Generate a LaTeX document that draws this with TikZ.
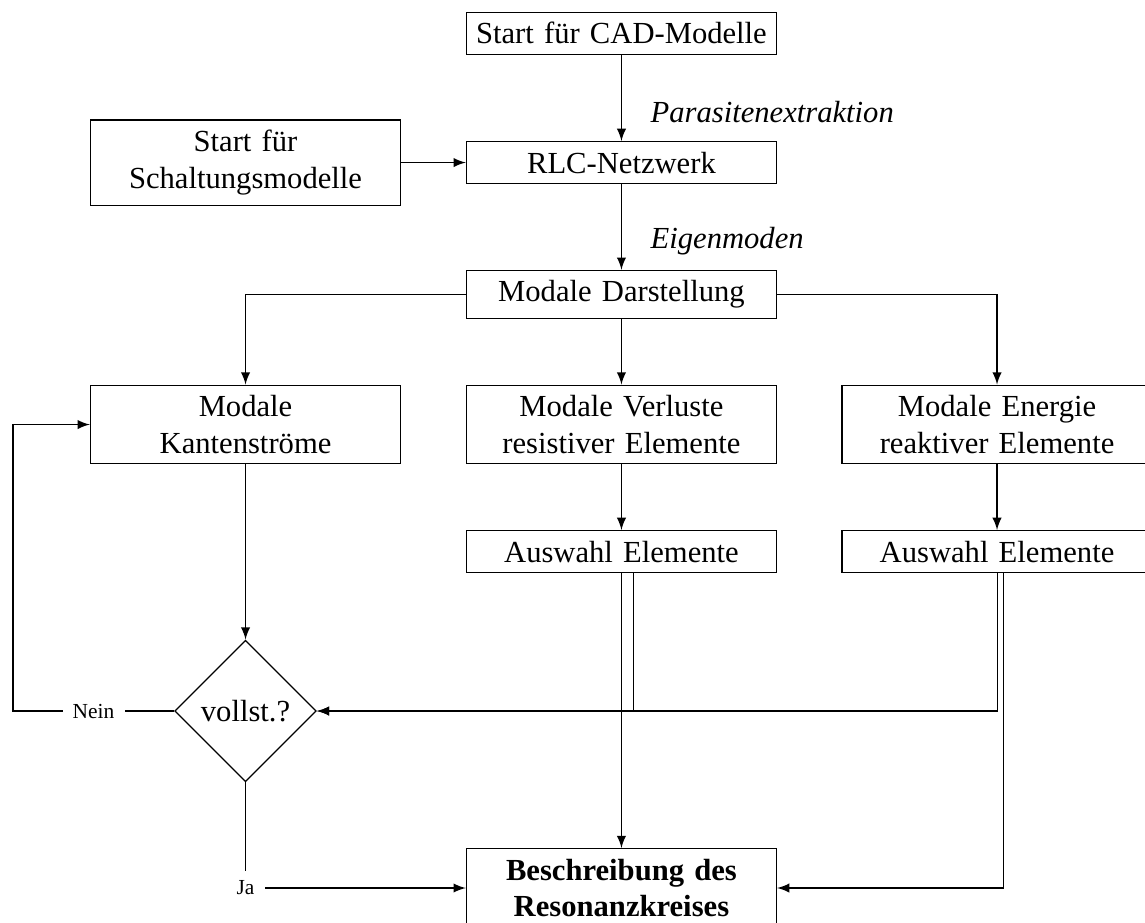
\documentclass[tikz,border=0pt]{standalone}
\usepackage{fontspec}
\setmainfont{Liberation Serif}
\usepackage{tikz}
\usetikzlibrary{shapes,arrows.meta,backgrounds}
\usetikzlibrary{positioning, shapes.geometric}
\tikzset{
  boxA/.style={ draw, inner xsep=2pt, text width=3.42cm, align=center }
}
\tikzset{
  decA/.style={ draw, diamond, aspect=1, inner sep=2.5pt }
}
\tikzset{
  lblA/.style={ fill=white, font=\scriptsize }
}
\tikzset{
  lblE/.style={ right, xshift=6pt, yshift=-4.5pt, font=\itshape }
}

\begin{document}
\begin{tikzpicture}[y=1cm, x=1cm, >=latex]
      \useasboundingbox (0,0) rectangle (13.146,-10.586);

      \node[boxA] (cad) at (7.135, -0.382) {Start für CAD-Modelle};
      \node[boxA] (rlc) at (7.135, -1.866) {RLC-Netzwerk};
      \node[boxA] (schalt) at (2.819, -1.866) {Start für\\Schaltungsmodelle};
      \node[boxA] (darst) at (7.135, -3.381) {Modale Darstellung};

      \node[boxA] (kant) at (2.819, -4.874) {Modale\\Kantenströme};
      \node[boxA] (verl) at (7.135, -4.874) {Modale Verluste\\resistiver Elemente};
      \node[boxA] (energ) at (11.447, -4.874) {Modale Energie\\reaktiver Elemente};

      \node[boxA] (auswV) at (7.135, -6.332) {Auswahl Elemente};
      \node[boxA] (auswE) at (11.447, -6.332) {Auswahl Elemente};

      \node[decA] (vollst) at (2.819, -8.163) {vollst.?};
      \node[boxA, font=\bfseries] (besch) at (7.135, -10.195) {Beschreibung des\\Resonanzkreises};
      \coordinate (loop) at (0.149, -8.163);

      \draw[->] (cad) -- node[midway, lblE] {Parasitenextraktion} (rlc);
      \draw[->] (schalt) -- (rlc);
      \draw[->] (rlc) -- node[midway, lblE] {Eigenmoden} (darst);

      \draw[->] (darst.west) -| (kant.north);
      \draw[->] (darst) -- (verl);
      \draw[->] (darst.east) -| (energ.north);

      \draw[->] (verl) -- (auswV);
      \draw[->] (energ) -- (auswE);
      \draw[->] (kant) -- (vollst);

      \draw[->] ([xshift=4pt]auswV.south) |- (vollst.east);
      \draw[->] ([xshift=0.2pt]auswE.south) |- (vollst.east);
      \draw[->] (auswV) -- (besch);
      \draw[->] ([xshift=2pt]auswE.south) |- (besch.east);

      \draw[->] (vollst.west) -- node[midway, lblA] {Nein} (loop) |- (kant.west);
      \draw[->] (vollst.south) |- node[lblA] {Ja} (besch.west);
    \end{tikzpicture}
\end{document}
